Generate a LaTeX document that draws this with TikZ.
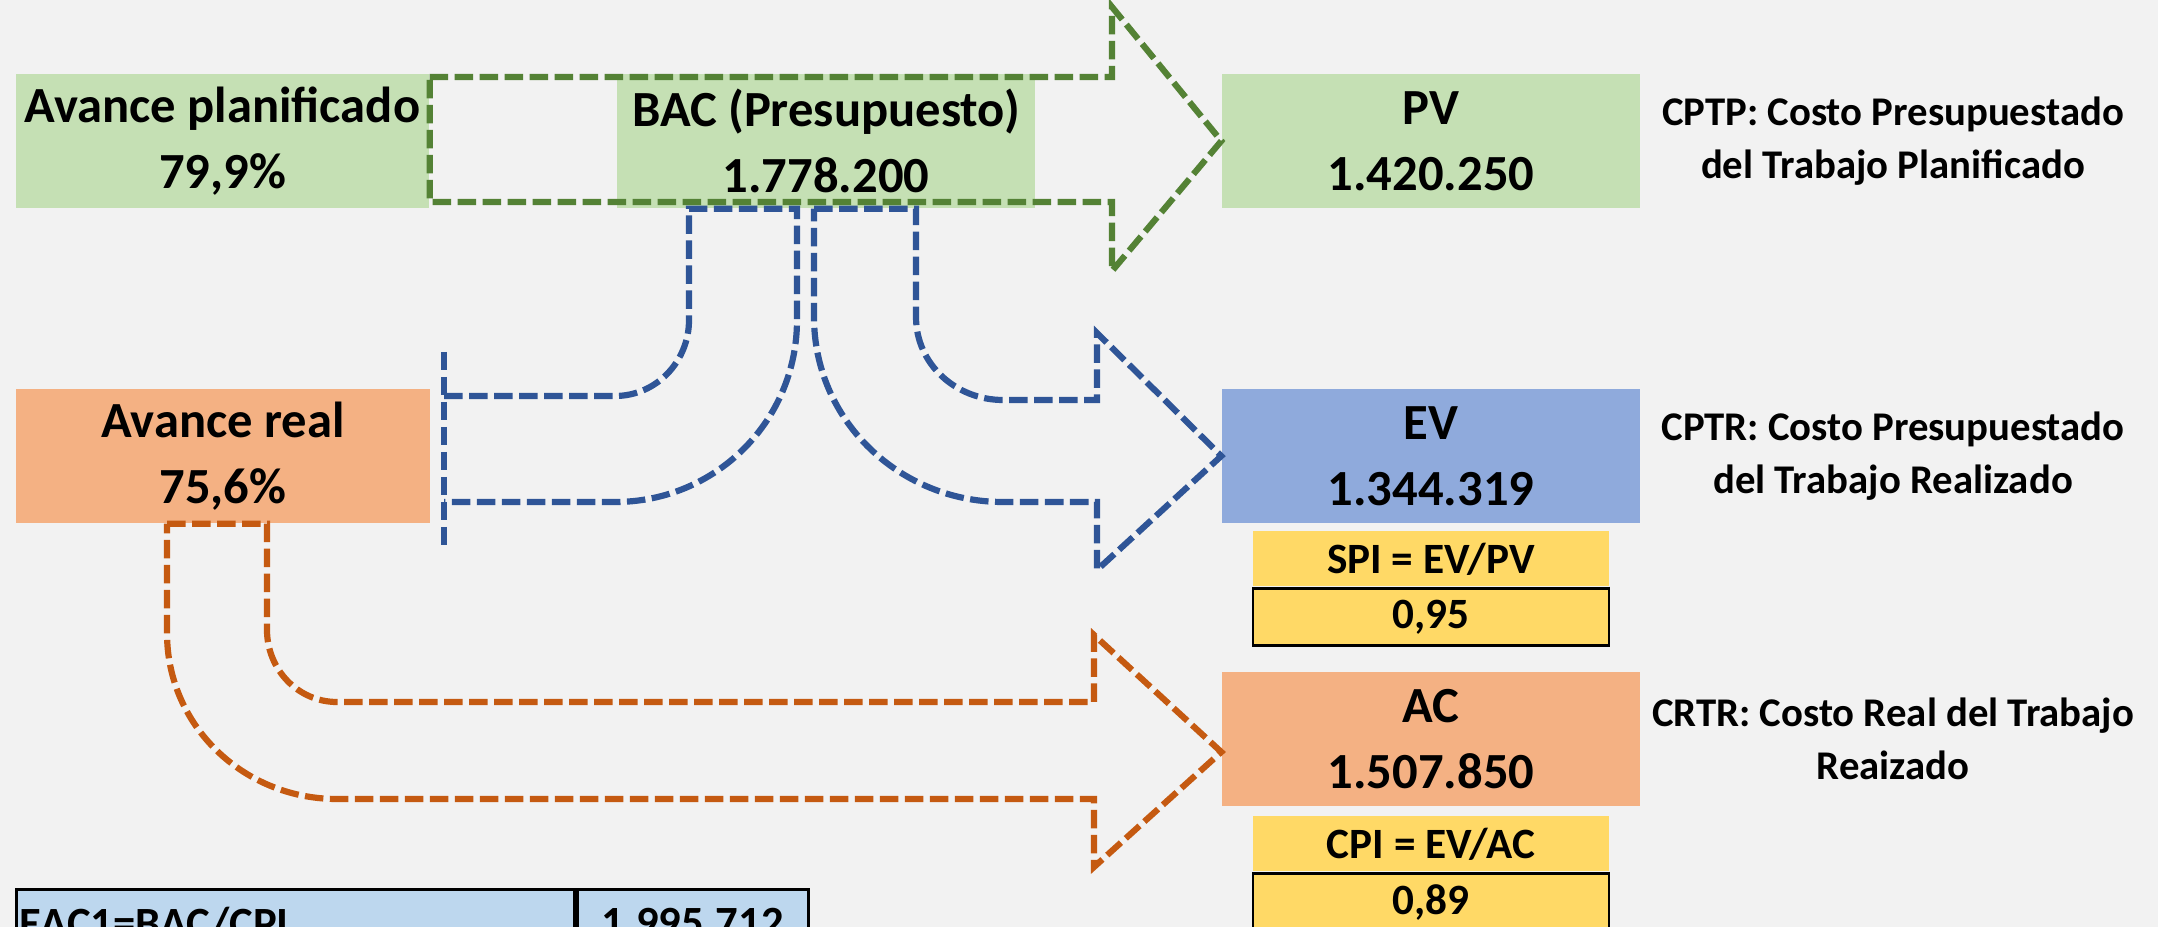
\documentclass[tikz,border=0pt]{standalone}
\usepackage{fontspec}
\setmainfont{Carlito}
\usetikzlibrary{positioning}

\definecolor{bgcol}{HTML}{F2F2F2}
\definecolor{plangreen}{HTML}{C5E0B4}
\definecolor{plangreenline}{HTML}{548235}
\definecolor{realorange}{HTML}{F4B183}
\definecolor{realorangeline}{HTML}{C55A11}
\definecolor{evblue}{HTML}{8FAADC}
\definecolor{evblueline}{HTML}{2F5597}
\definecolor{ratioyellow}{HTML}{FFD966}
\definecolor{eacblue}{HTML}{BDD7EE}

\begin{document}
\begin{tikzpicture}[x=0.1mm, y=-0.1mm,% one unit = one pixel, y going down
        box/.style={inner sep=0pt, minimum width=41.8mm, minimum height=13.4mm, align=center,
                font=\bfseries\fontsize{14.4}{18.7}\selectfont},
        greenbox/.style={box, fill=plangreen},
        orangebox/.style={box, fill=realorange},
        bluebox/.style={box, fill=evblue},
        cost/.style={align=center, font=\bfseries\fontsize{11.6}{15.2}\selectfont},
        ratio/.style={fill=ratioyellow, inner sep=0pt, minimum width=35.6mm, minimum height=5.5mm,
                font=\bfseries\fontsize{12.3}{14}\selectfont},
        ratioval/.style={ratio, draw=black, line width=0.8pt, minimum height=5.7mm},
        eaccell/.style={fill=eacblue, draw=black, line width=0.8pt, inner sep=0.3mm, minimum height=6.8mm,
                font=\bfseries\fontsize{12.7}{15}\selectfont},
        flow/.style={line width=0.62mm, dash pattern=on 1.85mm off 0.65mm}]
\useasboundingbox (0,0) rectangle (2158,927);
\fill[bgcol] (0,0) rectangle (2158,927);

% value boxes
\node[greenbox, minimum width=41.3mm] (plan) at (222.5,141) {Avance planificado\\79,9\%};
\node[greenbox] (bac) at (826,141) {BAC (Presupuesto)\\1.778.200};
\node[greenbox] (pv) at (1431,141) {PV\\1.420.250};
\node[orangebox, minimum width=41.4mm] (real) at (223,456) {Avance real\\75,6\%};
\node[bluebox] (ev) at (1431,456) {EV\\1.344.319};
\node[orangebox] (ac) at (1431,739) {AC\\1.507.850};

% indices under EV and AC
\node[ratio, below=0.7mm of ev] (spi) {SPI = EV/PV};
\node[ratioval, below=0pt of spi] (spival) {0,95};
\node[ratio, below=0.9mm of ac] (cpi) {CPI = EV/AC};
\node[ratioval, below=0pt of cpi] (cpival) {0,89};

% meaning of each value
\node[cost] (cptp) at (1893,0 |- pv) {CPTP: Costo Presupuestado\\del Trabajo Planificado};
\node[cost] (cptr) at (1893,0 |- ev) {CPTR: Costo Presupuestado\\del Trabajo Realizado};
\node[cost] (crtr) at (1893,0 |- ac) {CRTR: Costo Real del Trabajo\\Reaizado};

% estimate at completion
\node[eaccell, anchor=north west, minimum width=55.8mm, text width=55.2mm, align=left] (eac) at (15,888) {EAC1=BAC/CPI};
\node[eaccell, right=0pt of eac, minimum width=23.1mm] (eacval) {1.995.712};

% planned: Avance planificado -> PV
\draw[flow, draw=plangreenline] (plan.east |- 0,77) -- (1112,77) -- (1112,7) -- (pv.west) -- (1112,271)
        -- (1112,202) -- (plan.east |- 0,202) -- cycle;

% BAC -> Avance real (only the base of the head is drawn)
\draw[flow, draw=evblueline] (444,352) -- (444,547);
\draw[flow, draw=evblueline] (444,396) -- (615,396) to[out=0,in=-90] (689,320) -- (689,0 |- bac.south)
        -- (797,0 |- bac.south) -- (797,320) to[out=-90,in=0] (615,502) -- (444,502);

% BAC -> EV
\draw[flow, draw=evblueline] (814,0 |- bac.south) -- (916,0 |- bac.south) -- (916,317) to[out=-90,in=180] (1003,400)
        -- (1097,400) -- (1097,333) -- (ev.west) -- (1097,570) -- (1097,502) -- (1003,502)
        to[out=180,in=-90] (814,317) -- cycle;

% Avance real -> AC
\draw[flow, draw=realorangeline] (167,0 |- real.south) -- (267,0 |- real.south) -- (267,630) to[out=-90,in=180] (337,702)
        -- (1094,702) -- (1094,635) -- (ac.west |- 0,752) -- (1094,867) -- (1094,799) -- (337,799)
        to[out=180,in=-90] (167,633) -- cycle;
\end{tikzpicture}
\end{document}
